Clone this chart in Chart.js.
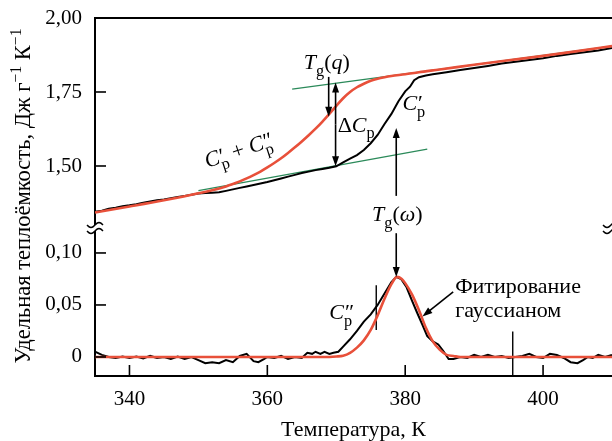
<!DOCTYPE html>
<html>
<head>
<meta charset="utf-8">
<script src="https://cdn.jsdelivr.net/npm/chart.js@4.4.1/dist/chart.umd.min.js"></script>
<style>html,body{margin:0;padding:0;background:#fff}</style>
</head>
<body>
<canvas id="c" width="612" height="441"></canvas>
<script>
// upper panel, Дж г-1 К-1: C'p (black) and C'p + C''p (red)
var revT = [335,336,337,338,339,340,341,342,343,344,345,346,347,348,349,350,351,352,353,354,355,356,357,358,359,360,361,362,363,364,365,366,367,368,369,370,371,372,373,374,375,376,377,378,379,380,380.7,381.3,382,383,384,386,388,390,392,394,396,398,400,402,404,406,408,410];
var revCp = [1.345,1.349,1.356,1.359,1.364,1.367,1.371,1.376,1.380,1.384,1.387,1.391,1.395,1.399,1.403,1.407,1.409,1.410,1.411,1.416,1.421,1.426,1.431,1.436,1.441,1.446,1.452,1.458,1.464,1.470,1.476,1.481,1.486,1.490,1.494,1.499,1.512,1.525,1.537,1.554,1.577,1.605,1.642,1.676,1.718,1.752,1.768,1.790,1.800,1.806,1.810,1.817,1.824,1.831,1.838,1.846,1.852,1.858,1.864,1.872,1.878,1.884,1.890,1.899];
var totT = [335,340,345,350,352,354,355,356,357,358,359,360,361,362,363,364,365,366,367,368,369,370,371,372,373,374,375,376,377,378,380,382,385,390,395,400,405,410];
var totCp = [1.343,1.363,1.384,1.408,1.418,1.431,1.439,1.448,1.458,1.469,1.481,1.495,1.510,1.526,1.544,1.563,1.583,1.604,1.626,1.650,1.676,1.703,1.729,1.750,1.766,1.778,1.788,1.795,1.800,1.804,1.810,1.817,1.826,1.842,1.857,1.872,1.888,1.905];

// lower panel: C''p (black) and gaussian fit (red)
var imT = [335,336,337,338,339,340,341,342,343,344,345,346,347,348,349,350,351,352,353,354,355,356,357,358,358.7,359.5,360,361,362,363,364,365,365.8,366.5,367,367.7,368.3,369,369.6,370.3,371,372,373,374,375,376,377,378,378.7,379.4,380.2,381,381.7,382.5,383.2,384,384.8,385.5,386.3,387,388,389,390,391,392,393,394,395,396,397,398,399,400,401,402,403,404,405,405.8,406.5,407.2,408,409,410];
var imCp = [0.005,0.002,0.0,-0.001,0.0005,-0.001,0.0005,-0.0015,0.001,-0.001,0.0,-0.002,0.0005,-0.002,0.0,-0.003,-0.006,-0.005,-0.006,-0.003,-0.005,0.001,0.003,-0.004,-0.005,-0.002,0.0,-0.001,0.001,-0.002,0.0,-0.001,0.004,0.003,0.005,0.003,0.005,0.003,0.004,0.005,0.01,0.017,0.025,0.034,0.041,0.05,0.061,0.072,0.077,0.075,0.067,0.054,0.043,0.031,0.02,0.015,0.012,0.006,-0.002,-0.002,0.0,-0.001,0.002,0.0,0.002,0.0,0.001,-0.001,0.0,0.001,0.003,0.0,-0.001,0.003,0.002,-0.001,-0.005,-0.006,-0.003,0.0,-0.001,0.002,0.0,0.002];
var fitT = [335,368,370,371,372,373,374,375,376,377,378,378.8,379.5,380,381,382,383,384,385,386,387,388,410];
var fitCp = [0,0,0.0005,0.0012,0.004,0.009,0.016,0.026,0.040,0.056,0.070,0.077,0.075,0.071,0.060,0.045,0.028,0.015,0.007,0.002,0.001,0,0];

// tangents and marker lines
var tanHiT = [363.6, 410], tanHiV = [1.760, 1.905];
var tanLoT = [350, 383.2], tanLoV = [1.4165, 1.557];
var markAT = [375.8, 375.8], markAV = [0.069, 0.026];
var markBT = [395.6, 395.6], markBV = [0.0245, -0.02];

var xTicks = [340, 360, 380, 400];
var yTopTicks = [1.50, 1.75, 2.00];
var yBotTicks = [0, 0.05, 0.10];

var RED = '#e8503a', GREEN = '#2b8a5a', BLACK = '#000';
var serif = '"Liberation Serif", "Times New Roman", serif';

function pts(xs, ys) {
    return xs.map(function(x, i) { return {x: x, y: ys[i]}; });
}
function fnt(size, it) {
    return (it ? 'italic ' : '') + size + 'px ' + serif;
}
function commaLabel(v) {
    return v === 0 ? '0' : v.toFixed(2).replace('.', ',');
}

// draw a run of text pieces: [text, kind, extra]
function rich(ctx, x, y, parts, size, dry) {
    var cx = x;
    parts.forEach(function(p) {
        var t = p[0], k = p[1], w;
        if (k === 'sub') {
            ctx.font = fnt(size * 0.74);
            if (!dry) ctx.fillText(t, cx, y + size * 0.3);
            cx += ctx.measureText(t).width;
        } else if (k === 'sup') {
            ctx.font = fnt(size * 0.7);
            if (!dry) ctx.fillText(t, cx, y - size * 0.42);
            cx += ctx.measureText(t).width;
        } else if (k === 'ps') {
            ctx.font = fnt(size);
            if (!dry) ctx.fillText(t, cx + 1, y);
            w = ctx.measureText(t).width + 1;
            ctx.font = fnt(size * 0.74);
            if (!dry) ctx.fillText(p[2], cx, y + size * 0.3);
            cx += Math.max(w, ctx.measureText(p[2]).width);
        } else {
            ctx.font = fnt(size, k === 'i');
            if (!dry) ctx.fillText(t, cx, y);
            cx += ctx.measureText(t).width;
        }
    });
    return cx - x;
}

function arrow(ctx, x1, y1, x2, y2) {
    var a = Math.atan2(y2 - y1, x2 - x1), L = 10, W = 3.5;
    ctx.beginPath();
    ctx.moveTo(x1, y1);
    ctx.lineTo(x2 - Math.cos(a) * L * 0.8, y2 - Math.sin(a) * L * 0.8);
    ctx.stroke();
    ctx.beginPath();
    ctx.moveTo(x2, y2);
    ctx.lineTo(x2 - Math.cos(a) * L - Math.sin(a) * W, y2 - Math.sin(a) * L + Math.cos(a) * W);
    ctx.lineTo(x2 - Math.cos(a) * L + Math.sin(a) * W, y2 - Math.sin(a) * L - Math.cos(a) * W);
    ctx.closePath();
    ctx.fill();
}

function tilde(ctx, cx, cy) {
    ctx.beginPath();
    for (var i = -8; i <= 8; i++) {
        var px = cx + i, py = cy - 2.5 * Math.sin(i / 8 * Math.PI);
        if (i === -8) ctx.moveTo(px, py); else ctx.lineTo(px, py);
    }
    ctx.stroke();
}

var decor = {
    id: 'decor',
    afterDraw: function(chart) {
        var ctx = chart.ctx, a = chart.chartArea;
        var xs = chart.scales.x, yt = chart.scales.yTop, yb = chart.scales.yBot;
        var X = function(v) { return xs.getPixelForValue(v); };
        var YT = function(v) { return yt.getPixelForValue(v); };
        var YB = function(v) { return yb.getPixelForValue(v); };
        ctx.save();
        ctx.strokeStyle = BLACK;
        ctx.fillStyle = BLACK;

        // frame top
        ctx.lineWidth = 2;
        ctx.beginPath();
        ctx.moveTo(a.left, a.top);
        ctx.lineTo(a.right, a.top);
        ctx.stroke();

        // inward tick marks
        ctx.lineWidth = 1.6;
        xTicks.forEach(function(v) {
            ctx.beginPath();
            ctx.moveTo(X(v), a.bottom);
            ctx.lineTo(X(v), a.bottom - 11);
            ctx.stroke();
        });
        yTopTicks.forEach(function(v) {
            ctx.beginPath();
            ctx.moveTo(a.left, YT(v));
            ctx.lineTo(a.left + 11, YT(v));
            ctx.stroke();
        });
        yBotTicks.forEach(function(v) {
            ctx.beginPath();
            ctx.moveTo(a.left, YB(v));
            ctx.lineTo(a.left + 11, YB(v));
            ctx.stroke();
        });

        // axis break marks
        var yBreak = yt.bottom;
        ctx.fillStyle = '#fff';
        ctx.fillRect(a.left - 2, yBreak - 3, 4, 6);
        ctx.fillStyle = BLACK;
        ctx.lineWidth = 1.5;
        tilde(ctx, a.left, yBreak - 3);
        tilde(ctx, a.left, yBreak + 3);
        tilde(ctx, a.right - 1, yBreak - 3);
        tilde(ctx, a.right - 1, yBreak + 3);

        // arrows
        ctx.lineWidth = 1.6;
        arrow(ctx, X(368.9), YT(1.801), X(368.9), YT(1.666));
        arrow(ctx, X(369.9), YT(1.64), X(369.9), YT(1.782));
        arrow(ctx, X(369.9), YT(1.64), X(369.9), YT(1.499));
        arrow(ctx, X(378.7), YT(1.399), X(378.7), YT(1.628));
        arrow(ctx, X(378.7), YB(0.119), X(378.7), YB(0.077));
        arrow(ctx, X(386.96), YB(0.0625), X(382.5), YB(0.039));

        // labels
        var fs = 22;
        ctx.textAlign = 'left';
        ctx.textBaseline = 'alphabetic';
        rich(ctx, X(365.3), YT(1.827), [['T', 'i'], ['g', 'sub'], ['(', 'n'], ['q', 'i'], [')', 'n']], fs);
        rich(ctx, X(370.2), YT(1.616), [['\u0394', 'n'], ['C', 'i'], ['p', 'sub']], fs);
        rich(ctx, X(379.6), YT(1.689), [['C', 'i'], ['\u2032', 'ps', 'p']], fs);
        rich(ctx, X(375.2), YT(1.314), [['T', 'i'], ['g', 'sub'], ['(', 'n'], ['\u03c9', 'i'], [')', 'n']], fs);
        rich(ctx, X(369.0), YB(0.0365), [['C', 'i'], ['\u2033', 'ps', 'p']], fs);
        ctx.font = fnt(fs);
        ctx.fillText('Фитирование', X(387.25), YB(0.0618));
        ctx.fillText('гауссианом', X(387.25), YB(0.0388));

        ctx.save();
        ctx.translate(X(351.3), YT(1.493));
        ctx.rotate(-0.32);
        rich(ctx, 0, 0, [['C', 'i'], ['\u2032', 'ps', 'p'], [' + ', 'n'], ['C', 'i'], ['\u2033', 'ps', 'p']], fs);
        ctx.restore();

        // y axis title
        var ys = 22.5;
        var yParts = [['Удельная теплоёмкость, Дж г', 'n'], ['\u22121', 'sup'], [' К', 'n'], ['\u22121', 'sup']];
        var tw = rich(ctx, 0, 0, yParts, ys, true);
        ctx.save();
        ctx.translate(22, 196);
        ctx.rotate(-Math.PI / 2);
        rich(ctx, -tw / 2, 8, yParts, ys);
        ctx.restore();

        ctx.restore();
    }
};

function lineSet(xs, ys, axis, color, width, smooth) {
    return {
        data: pts(xs, ys),
        yAxisID: axis,
        borderColor: color,
        borderWidth: width,
        pointRadius: 0,
        fill: false,
        tension: 0,
        cubicInterpolationMode: smooth ? 'monotone' : 'default'
    };
}

function fitY(s) {
    s.width = 95;
    s.paddingTop = 0;
    s.paddingBottom = 0;
}

var tickFont = {family: serif, size: 21};

new Chart(document.getElementById('c'), {
    type: 'line',
    data: {
        datasets: [
            lineSet(totT, totCp, 'yTop', RED, 2.6, true),
            lineSet(fitT, fitCp, 'yBot', RED, 2.6, true),
            lineSet(revT, revCp, 'yTop', BLACK, 2, false),
            lineSet(imT, imCp, 'yBot', BLACK, 2, false),
            lineSet(tanHiT, tanHiV, 'yTop', GREEN, 1.3, false),
            lineSet(tanLoT, tanLoV, 'yTop', GREEN, 1.3, false),
            lineSet(markAT, markAV, 'yBot', BLACK, 1.4, false),
            lineSet(markBT, markBV, 'yBot', BLACK, 1.4, false)
        ]
    },
    options: {
        responsive: false,
        animation: false,
        devicePixelRatio: 1,
        layout: {padding: {left: 0, right: 0, top: 18, bottom: 0}},
        plugins: {legend: {display: false}, tooltip: {enabled: false}},
        scales: {
            x: {
                type: 'linear', position: 'bottom', min: 335, max: 410,
                afterBuildTicks: function(s) { s.ticks = xTicks.map(function(v) { return {value: v}; }); },
                afterFit: function(s) { s.height = 65; s.paddingLeft = 0; s.paddingRight = 0; },
                grid: {display: false, drawTicks: false},
                border: {display: true, color: BLACK, width: 2},
                ticks: {autoSkip: false, maxRotation: 0, padding: 11, color: BLACK, font: tickFont,
                    callback: function(v) { return String(v); }},
                title: {display: true, text: 'Температура, К', color: BLACK,
                    font: {family: serif, size: 22}, padding: {top: 0, bottom: -2}}
            },
            yBot: {
                type: 'linear', position: 'left', stack: 'y', stackWeight: 148,
                min: -0.0183, max: 0.124,
                afterBuildTicks: function(s) { s.ticks = yBotTicks.map(function(v) { return {value: v}; }); },
                afterFit: fitY,
                grid: {display: false, drawTicks: false},
                border: {display: true, color: BLACK, width: 2},
                ticks: {autoSkip: false, padding: 13, color: BLACK, font: tickFont, callback: commaLabel}
            },
            yTop: {
                type: 'linear', position: 'left', stack: 'y', stackWeight: 210,
                min: 1.2905, max: 2.0,
                afterBuildTicks: function(s) { s.ticks = yTopTicks.map(function(v) { return {value: v}; }); },
                afterFit: fitY,
                grid: {display: false, drawTicks: false},
                border: {display: true, color: BLACK, width: 2},
                ticks: {autoSkip: false, padding: 13, color: BLACK, font: tickFont, callback: commaLabel}
            }
        }
    },
    plugins: [decor]
});
</script>
</body>
</html>
